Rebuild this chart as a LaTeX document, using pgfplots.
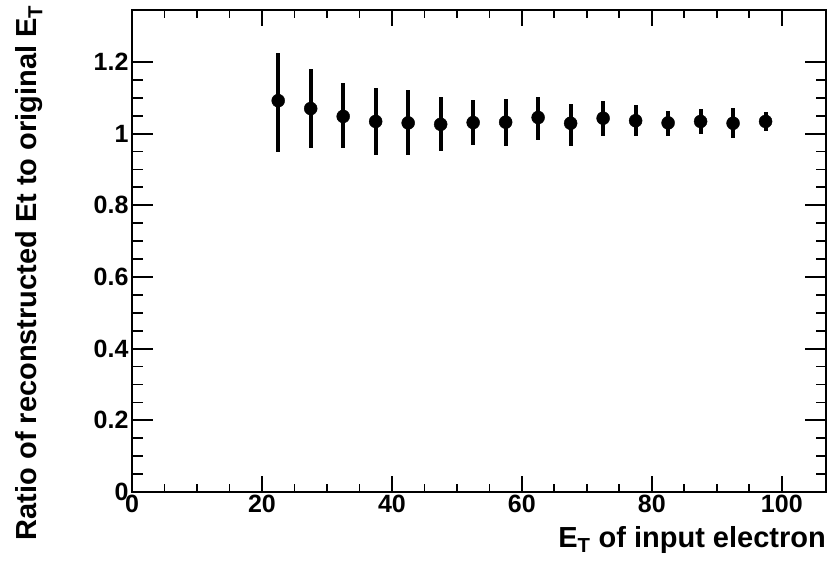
\documentclass[border=0pt]{standalone}
\usepackage{pgfplots}
\pgfplotsset{compat=1.18}
\usepackage{fontspec}
\setmainfont{Liberation Sans}
\begin{document}
\begin{tikzpicture}
\path[use as bounding box] (-132bp,-73bp) rectangle (699bp,492bp);
\begin{axis}[
  at={(0,0)}, anchor=south west,
  scale only axis, width=694bp, height=482bp,
  xmin=0, xmax=106.8, ymin=0, ymax=1.345,
  xtick={0,20,40,60,80,100},
  ytick={0,0.2,0.4,0.6,0.8,1,1.2},
  minor x tick num=3, minor y tick num=3,
  tick align=inside, tick pos=both,
  major tick length=21bp, minor tick length=10.5bp,
  x tick style={/pgfplots/major tick length=16bp, /pgfplots/minor tick length=8bp},
  axis line style={line width=2bp},
  every tick/.style={line width=1.8bp, black},
  ticklabel style={font=\fontsize{25bp}{29bp}\selectfont\bfseries},
  /pgf/number format/assume math mode=true,
]
\addplot[only marks, mark=*, mark size=6.5bp, black,
  error bars/.cd, y dir=both, y explicit,
  error mark=none,
  error bar style={line width=4bp, black}]
coordinates {
 (22.5,1.092) += (0,0.134) -= (0,0.144)
 (27.5,1.070) += (0,0.110) -= (0,0.111)
 (32.5,1.048) += (0,0.093) -= (0,0.089)
 (37.5,1.034) += (0,0.093) -= (0,0.094)
 (42.5,1.030) += (0,0.093) -= (0,0.089)
 (47.5,1.026) += (0,0.075) -= (0,0.075)
 (52.5,1.031) += (0,0.063) -= (0,0.062)
 (57.5,1.032) += (0,0.065) -= (0,0.067)
 (62.5,1.045) += (0,0.056) -= (0,0.063)
 (67.5,1.029) += (0,0.055) -= (0,0.064)
 (72.5,1.043) += (0,0.047) -= (0,0.051)
 (77.5,1.036) += (0,0.044) -= (0,0.044)
 (82.5,1.030) += (0,0.032) -= (0,0.038)
 (87.5,1.034) += (0,0.035) -= (0,0.035)
 (92.5,1.029) += (0,0.043) -= (0,0.041)
 (97.5,1.034) += (0,0.025) -= (0,0.026)
};
\end{axis}
\node[anchor=base east, inner sep=0pt, font=\fontsize{29bp}{34bp}\selectfont\bfseries]
  at (694bp,-55bp) {E\textsubscript{T} of input electron};
\node[rotate=90, anchor=base east, inner sep=0pt, font=\fontsize{29bp}{34bp}\selectfont\bfseries]
  at (-95bp,487bp) {Ratio of reconstructed Et to original E\textsubscript{T}};
\end{tikzpicture}
\end{document}
